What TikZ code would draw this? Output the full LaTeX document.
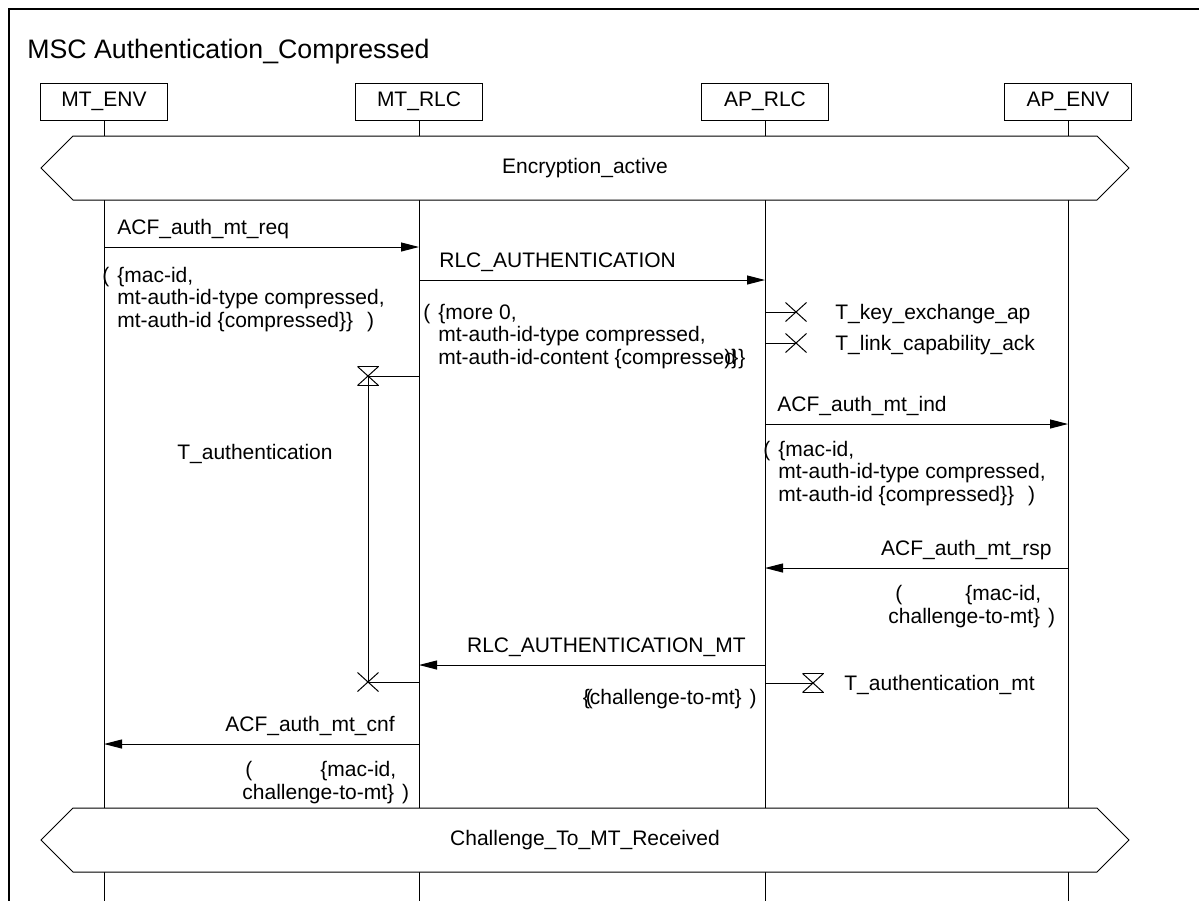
\documentclass[tikz,border=0pt]{standalone}
\usepackage{fontspec}
\setmainfont{Liberation Sans}
\usetikzlibrary{arrows.meta,shapes.misc}
\tikzstyle{every node}=[font=\fontsize{10.5}{11.25}\selectfont]
\tikzstyle{mscframe}=[line width=0.6pt]
\tikzstyle{mscname}=[inner sep=0pt,anchor=base west,font=\fontsize{13.35}{16}\selectfont]
\tikzstyle{instance}=[draw,line width=0.5pt,minimum width=63.5pt,minimum height=18.5pt,inner sep=0pt]
\tikzstyle{lifeline}=[line width=0.5pt]
\tikzstyle{orientedarc}=[-{Triangle[length=9pt,width=4.5pt]},line width=0.5pt]
\tikzstyle{arclabel}=[inner sep=0pt,anchor=base west]
\tikzstyle{arclabelleft}=[inner sep=0pt,anchor=base east]
\tikzstyle{params}=[inner sep=0pt,anchor=base west,align=left]
\tikzstyle{condition}=[draw,fill=white,line width=0.5pt]
\tikzstyle{timerline}=[line width=0.5pt]
\tikzstyle{timerstop}=[draw,cross out,line width=0.5pt,minimum width=10pt,minimum height=9pt,inner sep=0pt]
\tikzstyle{timerlabel}=[inner sep=0pt,anchor=base west]

\begin{document}
\begin{tikzpicture}[x=0.5pt,y=-0.5pt]
\useasboundingbox (0,0) rectangle (1199,900);
\clip (0,0) rectangle (1199,900);

\draw[mscframe] (9,910) -- (9,9) -- (1210,9);
\node[mscname] (NAME) at (27,58) {MSC Authentication\_Compressed};

\node[instance] (MTENV) at (104,101.5) {MT\_ENV};
\node[instance] (MTRLC) at (419,101.5) {MT\_RLC};
\node[instance] (APRLC) at (765,101.5) {AP\_RLC};
\node[instance] (APENV) at (1068,101.5) {AP\_ENV};

\coordinate (BOTTOM) at (0,910);
\draw[lifeline] (MTENV) -- (MTENV |- BOTTOM);
\draw[lifeline] (MTRLC) -- (MTRLC |- BOTTOM);
\draw[lifeline] (APRLC) -- (APRLC |- BOTTOM);
\draw[lifeline] (APENV) -- (APENV |- BOTTOM);

% conditions
\draw[condition] (41,168) -- (73,136) -- (1097,136) -- (1129,168) -- (1097,200) -- (73,200) -- cycle;
\node (C1) at (585,168) {Encryption\_active};
\draw[condition] (41,840) -- (73,808) -- (1097,808) -- (1129,840) -- (1097,872) -- (73,872) -- cycle;
\node (C2) at (585,840) {Challenge\_To\_MT\_Received};

% messages
\coordinate (Y1) at (0,247);
\draw[orientedarc] (MTENV |- Y1) -- (MTRLC |- Y1);
\node[arclabel] (L1) at (117,234) {ACF\_auth\_mt\_req};
\node[params] (P1) at (117,327) {\llap{(\hspace{4pt}}\{mac-id,\\mt-auth-id-type compressed,\\mt-auth-id \{compressed\}\}\hspace{7pt})};

\coordinate (Y2) at (0,280);
\draw[orientedarc] (MTRLC |- Y2) -- (APRLC |- Y2);
\node[arclabel] (L2) at (439,267) {RLC\_AUTHENTICATION};
\node[params] (P2) at (438,364) {\llap{(\hspace{4pt}}\{more 0,\\mt-auth-id-type compressed,\\mt-auth-id-content \{compresse\rlap{d})\}\}};

\coordinate (Y3) at (0,424);
\draw[orientedarc] (APRLC |- Y3) -- (APENV |- Y3);
\node[arclabel] (L3) at (777,411) {ACF\_auth\_mt\_ind};
\node[params] (P3) at (778,501) {\llap{(\hspace{4pt}}\{mac-id,\\mt-auth-id-type compressed,\\mt-auth-id \{compressed\}\}\hspace{7pt})};

\coordinate (Y4) at (0,568);
\draw[orientedarc] (APENV |- Y4) -- (APRLC |- Y4);
\node[arclabelleft] (L4) at (1052,555) {ACF\_auth\_mt\_rsp};
\node[params] (P4) at (888,623) {\hspace{3.5pt}(\hspace{31.5pt}\{mac-id,\\challenge-to-mt\}\hspace{4pt})};

\coordinate (Y5) at (0,665);
\draw[orientedarc] (APRLC |- Y5) -- (MTRLC |- Y5);
\node[arclabelleft] (L5) at (746,652) {RLC\_AUTHENTICATION\_MT};
\node[arclabelleft] (P5) at (757,704) {\rlap{\hspace{1.5pt}(}\{challenge-to-mt\}\hspace{4pt})};

\coordinate (Y6) at (0,744);
\draw[orientedarc] (MTRLC |- Y6) -- (MTENV |- Y6);
\node[arclabelleft] (L6) at (395,731) {ACF\_auth\_mt\_cnf};
\node[params] (P6) at (242,799) {\hspace{1.5pt}(\hspace{34pt}\{mac-id,\\challenge-to-mt\}\hspace{4pt})};

% timers on AP_RLC
\node[timerstop] (TK) at (796,312) {};
\draw[timerline] (APRLC |- TK) -- (TK.center);
\node[timerlabel] (TKL) at (835,319) {T\_key\_exchange\_ap};
\node[timerstop] (TL) at (796,343) {};
\draw[timerline] (APRLC |- TL) -- (TL.center);
\node[timerlabel] (TLL) at (835,350) {T\_link\_capability\_ack};

% T_authentication on MT_RLC
\node[timerstop] (TA) at (368,376) {};
\draw[timerline] (TA.north west) -- (TA.north east) (TA.south west) -- (TA.south east);
\draw[timerline] (MTRLC |- TA) -- (TA.center);
\node[timerstop] (TAX) at (368,682) {};
\draw[timerline] (TA.center) -- (TAX.center);
\draw[timerline] (MTRLC |- TAX) -- (TAX.center);
\node[arclabelleft] (TAL) at (333,459) {T\_authentication};

% T_authentication_mt on AP_RLC
\node[timerstop] (TM) at (813,683) {};
\draw[timerline] (TM.north west) -- (TM.north east) (TM.south west) -- (TM.south east);
\draw[timerline] (APRLC |- TM) -- (TM.center);
\node[timerlabel] (TML) at (844,690) {T\_authentication\_mt};

\end{tikzpicture}
\end{document}
